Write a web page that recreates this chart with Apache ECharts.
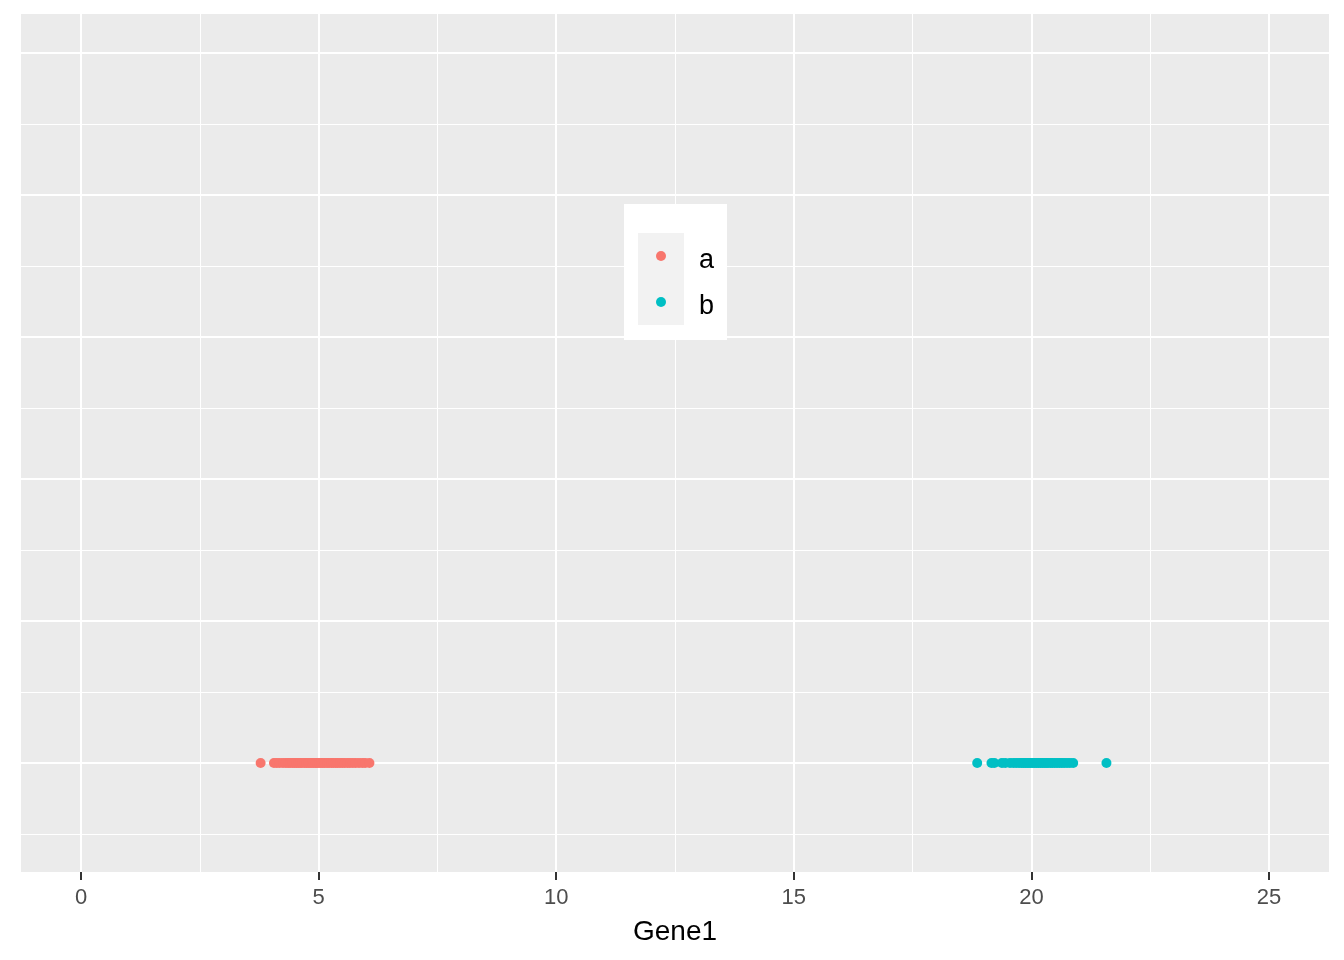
<!DOCTYPE html>
<html>
<head>
<meta charset="utf-8">
<script src="https://cdn.jsdelivr.net/npm/echarts@6/dist/echarts.min.js"></script>
<style>html,body{margin:0;padding:0;background:#fff}#c{width:1344px;height:960px}</style>
</head>
<body>
<div id="c"></div>
<script>
// ---- data ----
const groupA = [3.78, 4.06, 4.12, 4.18, 4.25, 4.31, 4.36, 4.40, 4.45, 4.49, 4.53, 4.57, 4.61, 4.65, 4.70, 4.74, 4.78, 4.82, 4.86, 4.90, 4.94, 4.97, 5.01, 5.05, 5.09, 5.13, 5.18, 5.22, 5.27, 5.31, 5.36, 5.40, 5.45, 5.50, 5.55, 5.61, 5.66, 5.72, 5.78, 5.85, 5.92, 5.98, 6.07];
const groupB = [18.86, 19.16, 19.22, 19.38, 19.45, 19.55, 19.62, 19.68, 19.74, 19.79, 19.83, 19.87, 19.91, 19.95, 19.99, 20.03, 20.07, 20.11, 20.15, 20.19, 20.23, 20.27, 20.31, 20.35, 20.40, 20.44, 20.49, 20.54, 20.59, 20.64, 20.69, 20.75, 20.81, 20.88, 21.58];
const groupY = 0;
const seriesNames = ['a', 'b'];
const xTickLabels = [0, 5, 10, 15, 20, 25];
const xMinorBreaks = [2.5, 7.5, 12.5, 17.5, 22.5];
const yMajorBreaks = [0, 2, 4, 6, 8, 10];
const yMinorBreaks = [-1, 1, 3, 5, 7, 9];
const xName = 'Gene1';

const FONT = '"Liberation Sans", Arial, sans-serif';
const chart = echarts.init(document.getElementById('c'), null, {renderer: 'canvas'});

const gridLines = [];
xTickLabels.forEach(v => gridLines.push({xAxis: v, lineStyle: {width: 2}}));
xMinorBreaks.forEach(v => gridLines.push({xAxis: v, lineStyle: {width: 1}}));
yMajorBreaks.forEach(v => gridLines.push({yAxis: v, lineStyle: {width: 2}}));
yMinorBreaks.forEach(v => gridLines.push({yAxis: v, lineStyle: {width: 1}}));

const xMin = -1.2626, xMax = 26.263;
const tickStep = xTickLabels[1] - xTickLabels[0];

chart.setOption({
  backgroundColor: '#ffffff',
  animation: false,
  grid: [
    {left: 21, top: 14, right: 15, bottom: 88, show: true, backgroundColor: '#EBEBEB', borderWidth: 0},
    // same panel, restricted to the labelled tick range [0, 25], used only for ticks/labels/title
    {left: 81, top: 14, right: 75, bottom: 88, show: false}
  ],
  xAxis: [
    {
      gridIndex: 0, type: 'value', min: xMin, max: xMax,
      axisLine: {show: false}, axisTick: {show: false}, axisLabel: {show: false}, splitLine: {show: false}
    },
    {
      gridIndex: 1, type: 'value',
      min: xTickLabels[0], max: xTickLabels[xTickLabels.length - 1], interval: tickStep,
      name: xName, nameLocation: 'middle', nameGap: 46,
      nameTextStyle: {color: '#000', fontSize: 28, fontFamily: FONT},
      axisLine: {show: false},
      splitLine: {show: false},
      axisTick: {show: true, length: 8, lineStyle: {color: '#333333', width: 2}},
      axisLabel: {color: '#4D4D4D', fontSize: 22, fontFamily: FONT, margin: 15, showMinLabel: true, showMaxLabel: true}
    }
  ],
  yAxis: [
    {gridIndex: 0, type: 'value', min: -1.535, max: 10.549,
      axisLine: {show: false}, axisTick: {show: false}, axisLabel: {show: false}, splitLine: {show: false}},
    {gridIndex: 1, type: 'value', min: 0, max: 1,
      axisLine: {show: false}, axisTick: {show: false}, axisLabel: {show: false}, splitLine: {show: false}}
  ],
  legend: {
    data: seriesNames,
    orient: 'vertical', left: 656, top: 247, padding: 0,
    itemWidth: 10, itemHeight: 10, itemGap: 19, icon: 'circle', z: 10,
    formatter: '{s| }{t|{name}}',
    textStyle: {
      color: '#000', fontSize: 27, fontFamily: FONT,
      rich: {
        s: {width: 28, height: 36, fontSize: 10},
        t: {color: '#000', fontSize: 27, fontFamily: FONT, lineHeight: 28, verticalAlign: 'bottom'}
      }
    }
  },
  graphic: [
    {type: 'rect', left: 624, top: 204, z: 8, shape: {width: 103, height: 136}, style: {fill: '#ffffff'}},
    {type: 'rect', left: 638, top: 233, z: 8, shape: {width: 46, height: 92}, style: {fill: '#F2F2F2'}}
  ],
  series: [
    {
      name: '_grid', type: 'scatter', data: [], z: 1, silent: true, xAxisIndex: 0, yAxisIndex: 0,
      markLine: {silent: true, z: 1, symbol: ['none', 'none'], label: {show: false}, animation: false,
        lineStyle: {color: '#ffffff', type: 'solid'}, data: gridLines}
    },
    {name: '_axis', type: 'scatter', data: [], xAxisIndex: 1, yAxisIndex: 1, silent: true},
    {name: seriesNames[0], type: 'scatter', z: 5, symbolSize: 10, xAxisIndex: 0, yAxisIndex: 0,
      itemStyle: {color: '#F8766D', opacity: 1}, data: groupA.map(v => [v, groupY])},
    {name: seriesNames[1], type: 'scatter', z: 5, symbolSize: 10, xAxisIndex: 0, yAxisIndex: 0,
      itemStyle: {color: '#00BFC4', opacity: 1}, data: groupB.map(v => [v, groupY])}
  ]
});
</script>
</body>
</html>
